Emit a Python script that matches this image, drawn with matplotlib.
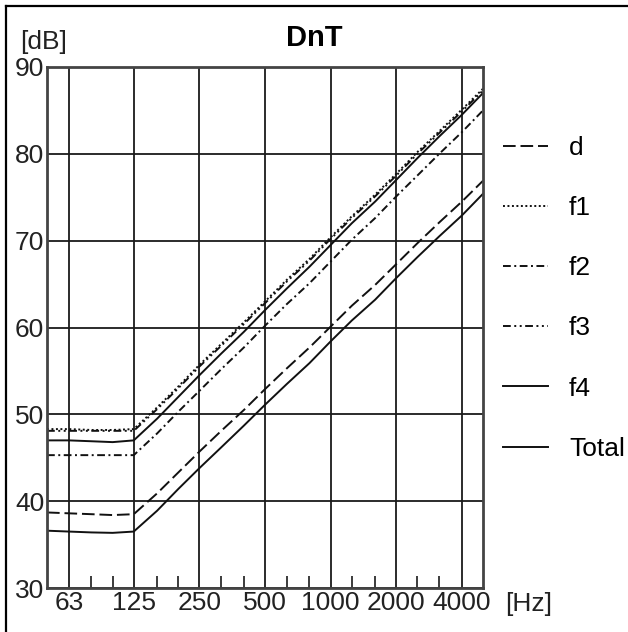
import matplotlib
matplotlib.use('Agg')
import matplotlib.pyplot as plt
from matplotlib.lines import Line2D

# third-octave band centre frequencies (Hz)
freqs = [50, 63, 80, 100, 125, 160, 200, 250, 315, 400, 500, 630, 800,
         1000, 1250, 1600, 2000, 2500, 3150, 4000, 5000]

d = [38.7, 38.6, 38.5, 38.4, 38.5, 40.9, 43.3, 45.7, 48.1, 50.5, 52.9, 55.3,
     57.7, 60.1, 62.5, 64.9, 67.3, 69.7, 72.1, 74.5, 76.9]
f1 = [48.3, 48.3, 48.2, 48.2, 48.3, 50.8, 53.2, 55.7, 58.1, 60.6, 63.0, 65.5,
      67.9, 70.4, 72.8, 75.3, 77.7, 80.2, 82.6, 85.1, 87.5]
f2 = [45.3, 45.3, 45.3, 45.3, 45.3, 47.8, 50.3, 52.7, 55.2, 57.7, 60.2, 62.7,
      65.1, 67.6, 70.1, 72.6, 75.1, 77.5, 80.0, 82.5, 85.0]
f3 = [48.1, 48.1, 48.1, 48.1, 48.1, 50.6, 53.0, 55.5, 57.9, 60.4, 62.8, 65.3,
      67.7, 70.2, 72.6, 75.1, 77.5, 80.0, 82.4, 84.9, 87.3]
f4 = [47.0, 47.0, 46.9, 46.8, 47.0, 49.5, 52.0, 54.5, 57.0, 59.5, 62.0, 64.5,
      67.0, 69.5, 72.0, 74.5, 77.0, 79.5, 82.0, 84.5, 87.0]
total = [36.6, 36.5, 36.4, 36.35, 36.5, 38.9, 41.4, 43.8, 46.2, 48.7, 51.1,
         53.5, 55.9, 58.4, 60.8, 63.2, 65.7, 68.1, 70.5, 72.9, 75.4]

octave_ticks = [63, 125, 250, 500, 1000, 2000, 4000]
octave_labels = ['63', '125', '250', '500', '1000', '2000', '4000']
third_ticks = [80, 100, 160, 200, 315, 400, 630, 800, 1250, 1600, 2500, 3150]
y_ticks = [30, 40, 50, 60, 70, 80, 90]

plt.rcParams['font.family'] = ['Liberation Sans', 'DejaVu Sans']
plt.rcParams['font.size'] = 19

W, H = 628, 632
fig = plt.figure(figsize=(W / 100, H / 100), dpi=100)
ax = fig.add_axes([47 / W, 1 - 588 / H, (483 - 47) / W, (588 - 67) / H])

lw = 1.4
ink = '#111111'
ax.plot(freqs, d, color=ink, lw=lw, dashes=(6.5, 2.5), label='d')
ax.plot(freqs, f1, color=ink, lw=lw, dashes=(1, 1.3), label='f1')
ax.plot(freqs, f2, color=ink, lw=lw, dashes=(4, 1.8, 1, 1.8), label='f2')
ax.plot(freqs, f3, color=ink, lw=lw, dashes=(4, 1.8, 1, 1.8, 1, 1.8), label='f3')
ax.plot(freqs, f4, color=ink, lw=lw, label='f4')
ax.plot(freqs, total, color=ink, lw=lw, label='Total')

ax.set_xscale('log')
ax.set_xlim(50, 5000)
ax.set_ylim(30, 90)
ax.set_xticks(octave_ticks)
ax.set_xticklabels(octave_labels)
ax.set_xticks(third_ticks, minor=True)
ax.xaxis.set_minor_formatter(plt.NullFormatter())
ax.set_yticks(y_ticks)
ax.set_yticklabels([str(v) for v in y_ticks])

ax.grid(True, which='major', color='#1a1a1a', lw=1.3)
ax.tick_params(which='major', length=0, labelcolor='#222222')
ax.tick_params(axis='x', which='major', pad=2)
ax.tick_params(axis='y', which='major', pad=2)
ax.tick_params(axis='x', which='minor', direction='in', length=8.5,
               width=1.2, color='#1a1a1a', top=False)
for s in ax.spines.values():
    s.set_color('#444444')
    s.set_linewidth(2.0)

ax.legend(loc='upper left', bbox_to_anchor=(503 / W, 1 - 136 / H),
          bbox_transform=fig.transFigure, frameon=False, handlelength=1.7,
          handletextpad=0.8, labelspacing=1.37, borderpad=0, borderaxespad=0)

fig.text(0.5, 1 - 38 / H, 'DnT', ha='center', va='center',
         fontsize=21, fontweight='bold')
fig.text(20 / W, 1 - 42 / H, '[dB]', ha='left', va='center', color='#222222')
fig.text(505 / W, 1 - 604 / H, '[Hz]', ha='left', va='center', color='#222222')

# outer frame (top and left edges visible)
fig.add_artist(Line2D([6 / W, 1.01], [1 - 6 / H, 1 - 6 / H],
                      transform=fig.transFigure, color='black', lw=1.6))
fig.add_artist(Line2D([6 / W, 6 / W], [-0.01, 1 - 6 / H],
                      transform=fig.transFigure, color='black', lw=1.6))

fig.savefig('out.png', dpi=100)
